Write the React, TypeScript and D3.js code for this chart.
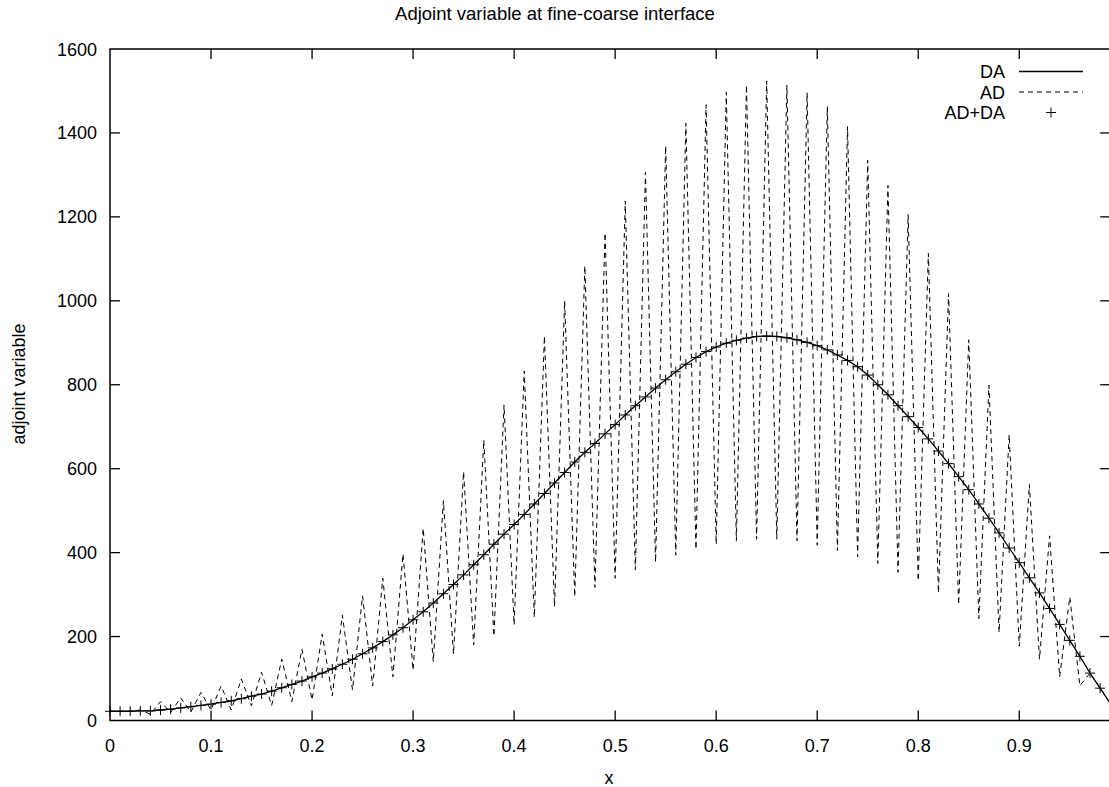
import {useEffect, useRef} from "react"
import * as d3 from "d3"

// sampled at x = i * STEP
const STEP = 0.01

const daValues = [
  22, 22, 22, 23, 23, 25, 27, 30, 33, 36,
  39, 43, 47, 52, 58, 63, 70, 78, 86, 94,
  104, 113, 123, 134, 146, 159, 173, 188, 204, 221,
  240, 259, 280, 302, 324, 347, 371, 395, 420, 444,
  467, 491, 516, 541, 566, 591, 616, 639, 660, 683,
  705, 728, 750, 771, 792, 812, 831, 849, 865, 879,
  890, 899, 906, 911, 915, 916, 915, 912, 907, 901,
  893, 883, 871, 858, 843, 823, 800, 776, 750, 724,
  698, 671, 642, 612, 581, 550, 516, 482, 447, 411,
  376, 340, 304, 267, 229, 191, 153, 113, 77, 41,
]

const adValues = [
  22, 22, 22, 25, 15, 45, 19, 54, 20, 67,
  25, 82, 25, 99, 35, 115, 36, 146, 45, 170,
  49, 206, 59, 251, 73, 297, 82, 339, 104, 397,
  120, 458, 140, 524, 158, 593, 180, 668, 201, 752,
  228, 833, 246, 916, 271, 1000, 295, 1083, 317, 1162,
  339, 1238, 359, 1306, 377, 1369, 394, 1423, 408, 1467,
  420, 1497, 428, 1514, 432, 1524, 432, 1514, 428, 1496,
  418, 1463, 405, 1415, 390, 1335, 374, 1275, 353, 1206,
  333, 1113, 304, 1017, 276, 907, 243, 799, 210, 681,
  177, 562, 146, 440, 104, 294, 83, 113, 77, 41,
]

// AD+DA points sit on the DA curve
const comboValues = daValues

const xTicks = [0, 0.1, 0.2, 0.3, 0.4, 0.5, 0.6, 0.7, 0.8, 0.9]
const yTicks = [0, 200, 400, 600, 800, 1000, 1200, 1400, 1600]
const legendNames = ["DA", "AD", "AD+DA"]

const W = 1109
const H = 787
const FONT = "'Liberation Sans', Arial, Helvetica, sans-serif"

export default function App() {
  const ref = useRef<SVGSVGElement>(null)

  useEffect(() => {
    const svg = d3.select(ref.current)
    svg.selectAll("*").remove()

    const left = 110
    const right = 1110.2
    const top = 49
    const bottom = 720.5

    const x = d3.scaleLinear().domain([0, 0.99]).range([left, right])
    const y = d3.scaleLinear().domain([0, 1600]).range([bottom, top])
    const xs = daValues.map((_, i) => i * STEP)

    svg
      .append("clipPath")
      .attr("id", "plot-clip")
      .append("rect")
      .attr("x", left)
      .attr("y", top)
      .attr("width", right - left)
      .attr("height", bottom - top)

    /**
     * Series
     */
    const line = d3
      .line<number>()
      .x((_, i) => x(xs[i]))
      .y((d) => y(d))

    svg
      .append("path")
      .datum(adValues)
      .attr("d", line)
      .attr("clip-path", "url(#plot-clip)")
      .attr("fill", "none")
      .attr("stroke", "#000")
      .attr("stroke-width", 1)
      .attr("stroke-dasharray", "5,4")

    svg
      .append("path")
      .datum(daValues)
      .attr("d", line)
      .attr("clip-path", "url(#plot-clip)")
      .attr("fill", "none")
      .attr("stroke", "#000")
      .attr("stroke-width", 1.3)

    const pts = comboValues
      .map((v, i) => ({x: xs[i], v}))
      .filter((d) => d.x <= x.domain()[1] - 0.005)
    svg
      .append("g")
      .selectAll("path")
      .data(pts)
      .join("path")
      .attr("d", (d) => {
        const cx = x(d.x)
        const cy = y(d.v)
        return `M${cx - 5},${cy}H${cx + 5}M${cx},${cy - 5}V${cy + 5}`
      })
      .attr("stroke", "#000")
      .attr("stroke-width", 1)

    /**
     * Border and ticks (mirrored, inward)
     */
    svg
      .append("rect")
      .attr("x", left)
      .attr("y", top)
      .attr("width", right - left)
      .attr("height", bottom - top)
      .attr("fill", "none")
      .attr("stroke", "#000")
      .attr("stroke-width", 1.5)

    const ticks = svg.append("g").attr("stroke", "#000").attr("stroke-width", 1.3)
    xTicks.forEach((t) => {
      if (t === 0) return
      ticks.append("line").attr("x1", x(t)).attr("x2", x(t)).attr("y1", bottom).attr("y2", bottom - 10)
      ticks.append("line").attr("x1", x(t)).attr("x2", x(t)).attr("y1", top).attr("y2", top + 10)
    })
    yTicks.forEach((t) => {
      if (t === 0 || t === 1600) return
      ticks.append("line").attr("x1", left).attr("x2", left + 10).attr("y1", y(t)).attr("y2", y(t))
      ticks.append("line").attr("x1", right - 10).attr("x2", right).attr("y1", y(t)).attr("y2", y(t))
    })

    const text = svg
      .append("g")
      .attr("font-family", FONT)
      .attr("font-size", 18)
      .attr("fill", "#000")

    xTicks.forEach((t) => {
      text
        .append("text")
        .attr("x", x(t))
        .attr("y", 752)
        .attr("text-anchor", "middle")
        .text(String(t))
    })
    yTicks.forEach((t) => {
      text
        .append("text")
        .attr("x", 97)
        .attr("y", y(t) + 6.5)
        .attr("text-anchor", "end")
        .text(String(t))
    })

    text
      .append("text")
      .attr("x", 555)
      .attr("y", 20)
      .attr("text-anchor", "middle")
      .attr("font-size", 18.5)
      .text("Adjoint variable at fine-coarse interface")

    text
      .append("text")
      .attr("x", 609)
      .attr("y", 784)
      .attr("text-anchor", "middle")
      .text("x")

    text
      .append("text")
      .attr("transform", "translate(25,384) rotate(-90)")
      .attr("text-anchor", "middle")
      .text("adjoint variable")

    /**
     * Legend
     */
    const legendY = [71.5, 92, 112.5]
    legendNames.forEach((name, i) => {
      text
        .append("text")
        .attr("x", 1005)
        .attr("y", legendY[i] + 6.5)
        .attr("text-anchor", "end")
        .text(name)
    })
    svg.append("line")
      .attr("x1", 1019).attr("x2", 1083)
      .attr("y1", legendY[0]).attr("y2", legendY[0])
      .attr("stroke", "#000").attr("stroke-width", 1.3)
    svg.append("line")
      .attr("x1", 1019).attr("x2", 1083)
      .attr("y1", legendY[1]).attr("y2", legendY[1])
      .attr("stroke", "#000").attr("stroke-width", 1)
      .attr("stroke-dasharray", "5,4")
    svg.append("path")
      .attr("d", `M${1051 - 5},${legendY[2]}H${1051 + 5}M1051,${legendY[2] - 5}V${legendY[2] + 5}`)
      .attr("stroke", "#000").attr("stroke-width", 1)
  }, [])

  return (
    <svg
      ref={ref}
      width={W}
      height={H}
      style={{position: "absolute", left: 0, top: 0, background: "#fff"}}
    />
  )
}
